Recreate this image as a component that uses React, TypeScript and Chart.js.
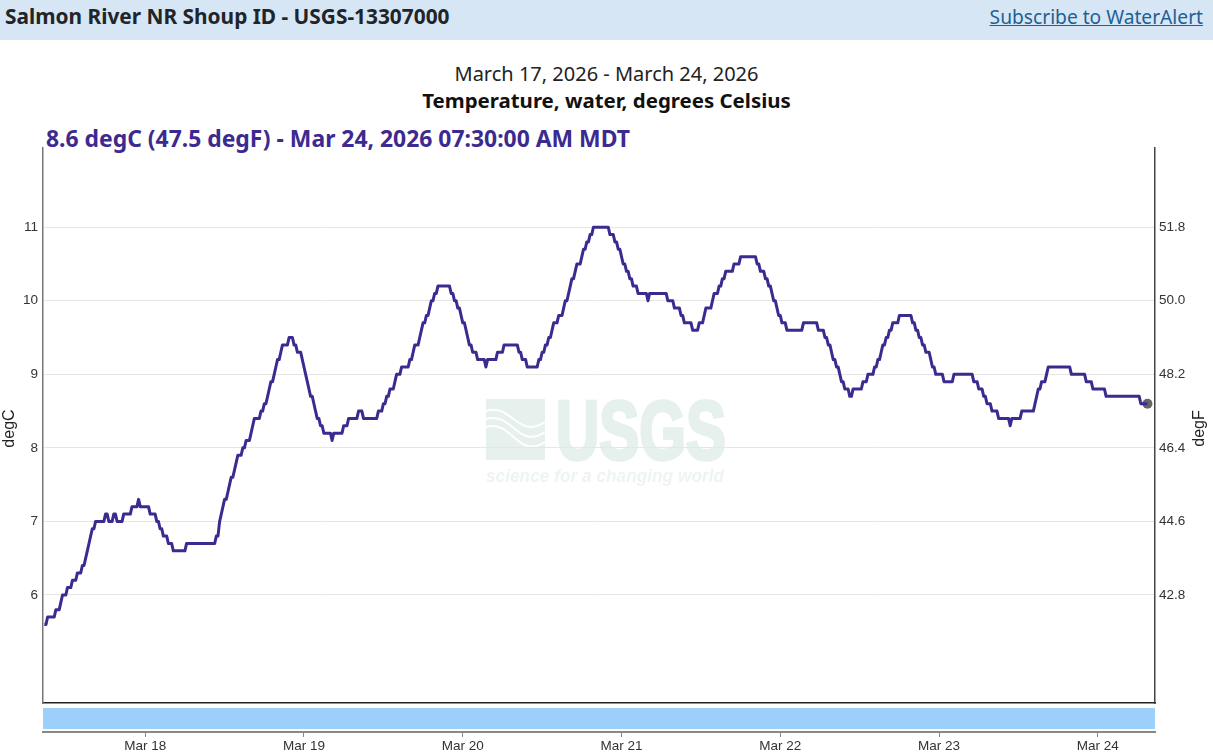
import { useEffect, useRef } from "react"
import { Chart, registerables, type Plugin } from "chart.js"

Chart.register(...registerables)

// gage readings, every 15 minutes, written as runs: level (degC) + how many readings stayed there
const TEMP_LEVELS = [
  5.6, 5.7, 5.8, 5.9, 6.0, 6.1, 6.2, 6.3, 6.4, 6.5,
  6.6, 6.7, 6.8, 6.9, 7.0, 7.1, 7.0, 7.1, 7.0, 7.1,
  7.2, 7.3, 7.2, 7.1, 7.0, 6.9, 6.8, 6.7, 6.6, 6.7,
  6.8, 7.0, 7.1, 7.2, 7.3, 7.4, 7.5, 7.6, 7.7, 7.8,
  7.9, 8.0, 8.1, 8.2, 8.3, 8.4, 8.5, 8.6, 8.7, 8.8,
  8.9, 9.0, 9.1, 9.2, 9.3, 9.4, 9.5, 9.4, 9.3, 9.2,
  9.1, 9.0, 8.9, 8.8, 8.7, 8.6, 8.5, 8.4, 8.3, 8.2,
  8.1, 8.2, 8.3, 8.4, 8.5, 8.4, 8.5, 8.6, 8.7, 8.8,
  8.9, 9.0, 9.1, 9.2, 9.3, 9.4, 9.5, 9.6, 9.7, 9.8,
  9.9, 10.0, 10.1, 10.2, 10.1, 10.0, 9.9, 9.8, 9.7, 9.6,
  9.5, 9.4, 9.3, 9.2, 9.1, 9.2, 9.3, 9.4, 9.3, 9.2,
  9.1, 9.2, 9.3, 9.4, 9.5, 9.6, 9.7, 9.8, 9.9, 10.0,
  10.1, 10.2, 10.3, 10.4, 10.5, 10.6, 10.7, 10.8, 10.9, 11.0,
  10.9, 10.8, 10.7, 10.6, 10.5, 10.4, 10.3, 10.2, 10.1, 10.0,
  10.1, 10.0, 9.9, 9.8, 9.7, 9.6, 9.7, 9.8, 9.9, 10.0,
  10.1, 10.2, 10.3, 10.4, 10.5, 10.6, 10.5, 10.4, 10.3, 10.2,
  10.1, 10.0, 9.9, 9.8, 9.7, 9.6, 9.7, 9.6, 9.5, 9.4,
  9.3, 9.2, 9.1, 9.0, 8.9, 8.8, 8.7, 8.8, 8.9, 9.0,
  9.1, 9.2, 9.3, 9.4, 9.5, 9.6, 9.7, 9.8, 9.7, 9.6,
  9.5, 9.4, 9.3, 9.2, 9.1, 9.0, 8.9, 9.0, 8.9, 8.8,
  8.7, 8.6, 8.5, 8.4, 8.3, 8.4, 8.5, 8.6, 8.7, 8.8,
  8.9, 9.0, 9.1, 9.0, 8.9, 8.8, 8.7, 8.6,
]
const LEVEL_READINGS = [
  2, 5, 3, 1, 3, 3, 3, 3, 2, 1,
  1, 1, 1, 2, 6, 2, 3, 2, 4, 5,
  4, 1, 6, 4, 2, 2, 3, 3, 8, 18,
  2, 1, 1, 1, 2, 1, 1, 2, 1, 1,
  3, 2, 3, 1, 1, 4, 2, 2, 1, 1,
  2, 1, 1, 2, 1, 4, 3, 2, 3, 1,
  1, 1, 1, 1, 2, 1, 1, 2, 2, 5,
  1, 6, 3, 6, 3, 9, 3, 2, 2, 3,
  1, 3, 5, 2, 1, 3, 1, 1, 2, 2,
  1, 2, 2, 8, 2, 2, 2, 1, 2, 1,
  1, 2, 3, 5, 1, 6, 4, 9, 2, 3,
  7, 2, 2, 2, 2, 1, 3, 3, 1, 2,
  1, 1, 2, 1, 3, 1, 2, 2, 2, 10,
  3, 2, 2, 1, 2, 2, 2, 3, 6, 1,
  11, 4, 4, 2, 5, 4, 3, 1, 4, 1,
  3, 2, 2, 5, 4, 10, 2, 3, 2, 2,
  1, 2, 1, 2, 3, 10, 9, 4, 2, 2,
  1, 2, 2, 1, 2, 3, 2, 6, 3, 4,
  2, 2, 1, 2, 2, 2, 4, 8, 2, 2,
  2, 2, 3, 1, 2, 5, 6, 12, 3, 3,
  2, 3, 4, 7, 1, 6, 8, 1, 1, 2,
  3, 1, 14, 9, 4, 8, 21, 5,
]

// hours since Mar 17 00:00 MDT
const FIRST_READING_HOUR = 8.75
const HOUR_MIN = 8.55
const HOUR_MAX = 176.64
const DAY_TICK_HOURS = [24, 48, 72, 96, 120, 144, 168]
const DAY_TICK_LABELS = ["Mar 18", "Mar 19", "Mar 20", "Mar 21", "Mar 22", "Mar 23", "Mar 24"]

const DEGC_MIN = 4.531
const DEGC_MAX = 12.077
const DEGC_TICKS = [6, 7, 8, 9, 10, 11]
const DEGF_TICKS = [42.8, 44.6, 46.4, 48.2, 50.0, 51.8]

const SERIES_COLOR = "#3c2a91"
const AXIS_FONT = "'Liberation Sans', Arial, sans-serif"
const PAGE_FONT = "'Noto Sans', sans-serif"

function readings() {
  const pts: { x: number; y: number }[] = []
  TEMP_LEVELS.forEach((level, i) => {
    for (let n = 0; n < LEVEL_READINGS[i]; n++) {
      pts.push({ x: FIRST_READING_HOUR + pts.length * 0.25, y: level })
    }
  })
  return pts
}

function fitText(ctx: CanvasRenderingContext2D, text: string, left: number, baseline: number, width: number, stroke = 0) {
  const w = ctx.measureText(text).width
  ctx.save()
  ctx.translate(left, baseline)
  ctx.scale(width / w, 1)
  ctx.fillText(text, 0, 0)
  if (stroke) {
    ctx.lineWidth = stroke
    ctx.strokeText(text, 0, 0)
  }
  ctx.restore()
}

// faint USGS mark sits under the grid
const watermark: Plugin<"line"> = {
  id: "watermark",
  beforeDraw(chart) {
    const ctx = chart.ctx
    ctx.save()
    ctx.fillStyle = "#e6f0ec"
    ctx.fillRect(486, 399, 59, 61)
    ctx.strokeStyle = "#ffffff"
    ctx.lineWidth = 2
    const waves = [[411, 422], [419, 432], [427, 442]]
    waves.forEach(([a, b]) => {
      ctx.beginPath()
      ctx.moveTo(486, a)
      ctx.bezierCurveTo(512, a - 8, 518, b + 18, 545, b)
      ctx.stroke()
    })
    ctx.fillStyle = "#e6f0ec"
    ctx.strokeStyle = "#e6f0ec"
    ctx.font = "bold 84px 'Liberation Sans'"
    fitText(ctx, "USGS", 556, 459, 170, 3.5)
    ctx.fillStyle = "#edf4f1"
    ctx.font = "italic bold 19px 'Liberation Sans'"
    fitText(ctx, "science for a changing world", 486, 482, 238)
    ctx.restore()
  },
}

// range strip and unit labels
const extras: Plugin<"line"> = {
  id: "extras",
  afterDraw(chart) {
    const { ctx, chartArea } = chart
    ctx.save()
    ctx.fillStyle = "#9dcffb"
    ctx.fillRect(chartArea.left, chartArea.bottom + 5, chartArea.width, 21)
    ctx.fillStyle = "#222222"
    ctx.font = `16px ${AXIS_FONT}`
    ctx.textAlign = "center"
    ctx.textBaseline = "middle"
    const mid = (chartArea.top + chartArea.bottom) / 2 + 3
    ;[10, 1200].forEach((x, i) => {
      ctx.save()
      ctx.translate(x, mid)
      ctx.rotate(-Math.PI / 2)
      ctx.fillText(i === 0 ? "degC" : "degF", 0, 0)
      ctx.restore()
    })
    ctx.restore()
  },
}

export default function App() {
  const canvasRef = useRef<HTMLCanvasElement>(null)

  useEffect(() => {
    document.body.style.margin = "0"
    if (!canvasRef.current) return
    const pts = readings()

    const dayTicks = (scale: any) => {
      scale.ticks = DAY_TICK_HOURS.map(value => ({ value }))
    }

    const chart = new Chart(canvasRef.current, {
      type: "line",
      data: {
        datasets: [
          {
            label: "Temperature, water",
            data: pts,
            borderColor: SERIES_COLOR,
            borderWidth: 3,
            borderJoinStyle: "round",
            pointRadius: 0,
            tension: 0,
            order: 1,
            yAxisID: "y",
            xAxisID: "x",
          },
          {
            label: "Latest",
            data: pts.slice(-1),
            pointRadius: 5,
            pointBackgroundColor: "#666666",
            pointBorderWidth: 0,
            showLine: false,
            order: 2,
            yAxisID: "y",
            xAxisID: "x",
          },
        ],
      },
      options: {
        responsive: false,
        animation: false,
        layout: { padding: { top: 148 } },
        plugins: { legend: { display: false }, tooltip: { enabled: false } },
        scales: {
          x: {
            type: "linear",
            position: "bottom",
            min: HOUR_MIN,
            max: HOUR_MAX,
            grid: { display: false },
            ticks: { display: false },
            border: { color: "#222222", width: 1.5 },
            afterBuildTicks: dayTicks,
            afterFit: (scale: any) => { scale.height = 29 },
          },
          x2: {
            type: "linear",
            position: "bottom",
            min: HOUR_MIN,
            max: HOUR_MAX,
            grid: { display: true, drawOnChartArea: false, drawTicks: true, tickLength: 5, color: "#888888" },
            ticks: {
              autoSkip: false,
              maxRotation: 0,
              padding: 1,
              color: "#333333",
              font: { family: AXIS_FONT, size: 13.5 },
              callback: (value: any) => DAY_TICK_LABELS[DAY_TICK_HOURS.indexOf(value)],
            },
            border: { color: "#888888", width: 2 },
            afterBuildTicks: dayTicks,
            afterFit: (scale: any) => { scale.height = 24 },
          },
          y: {
            position: "left",
            min: DEGC_MIN,
            max: DEGC_MAX,
            grid: { color: "#e6e6e6", drawTicks: false },
            border: { color: "#777777", width: 1.5 },
            ticks: {
              padding: 5,
              color: "#333333",
              font: { family: AXIS_FONT, size: 13.5 },
            },
            afterBuildTicks: (scale: any) => { scale.ticks = DEGC_TICKS.map(value => ({ value })) },
            afterFit: (scale: any) => { scale.width = 43 },
          },
          y2: {
            position: "right",
            min: DEGC_MIN * 1.8 + 32,
            max: DEGC_MAX * 1.8 + 32,
            grid: { display: false, drawOnChartArea: false, drawTicks: false },
            border: { color: "#444444", width: 1.5 },
            ticks: {
              padding: 4,
              color: "#333333",
              font: { family: AXIS_FONT, size: 13.5 },
              callback: (value: any) => Number(value).toFixed(1),
            },
            afterBuildTicks: (scale: any) => { scale.ticks = DEGF_TICKS.map(value => ({ value })) },
            afterFit: (scale: any) => { scale.width = 58 },
          },
        },
      },
      plugins: [watermark, extras],
    })

    return () => chart.destroy()
  }, [])

  return (
    <div style={{ position: "relative", width: 1213, height: 756, overflow: "hidden", fontFamily: PAGE_FONT, background: "#fff" }}>
      <div style={{ position: "absolute", left: 0, top: 0, width: 1213, height: 40, background: "#d6e6f5" }} />
      <div style={{ position: "absolute", left: 5, top: 3, fontSize: 20.85, lineHeight: "27px", fontWeight: 700, color: "#212529", whiteSpace: "nowrap" }}>
        Salmon River NR Shoup ID - USGS-13307000
      </div>
      <div style={{ position: "absolute", right: 10, top: 3, fontSize: 19.2, lineHeight: "27px", color: "#1c6195", textDecoration: "underline", whiteSpace: "nowrap" }}>
        Subscribe to WaterAlert
      </div>
      <div style={{ position: "absolute", left: 0, width: 1213, top: 60, textAlign: "center", fontSize: 20, lineHeight: "27px", color: "#222" }}>
        March 17, 2026 - March 24, 2026
      </div>
      <div style={{ position: "absolute", left: 0, width: 1213, top: 87, textAlign: "center", fontSize: 20.45, lineHeight: "27px", fontWeight: 700, color: "#111" }}>
        Temperature, water, degrees Celsius
      </div>
      <div style={{ position: "absolute", left: 46, top: 123, fontSize: 22.9, lineHeight: "31px", fontWeight: 700, color: SERIES_COLOR, whiteSpace: "nowrap" }}>
        8.6 degC (47.5 degF) - Mar 24, 2026 07:30:00 AM MDT
      </div>
      <canvas ref={canvasRef} width={1213} height={756} style={{ position: "absolute", left: 0, top: 0, display: "block" }} aria-label="Water temperature chart" role="img" />
    </div>
  )
}
